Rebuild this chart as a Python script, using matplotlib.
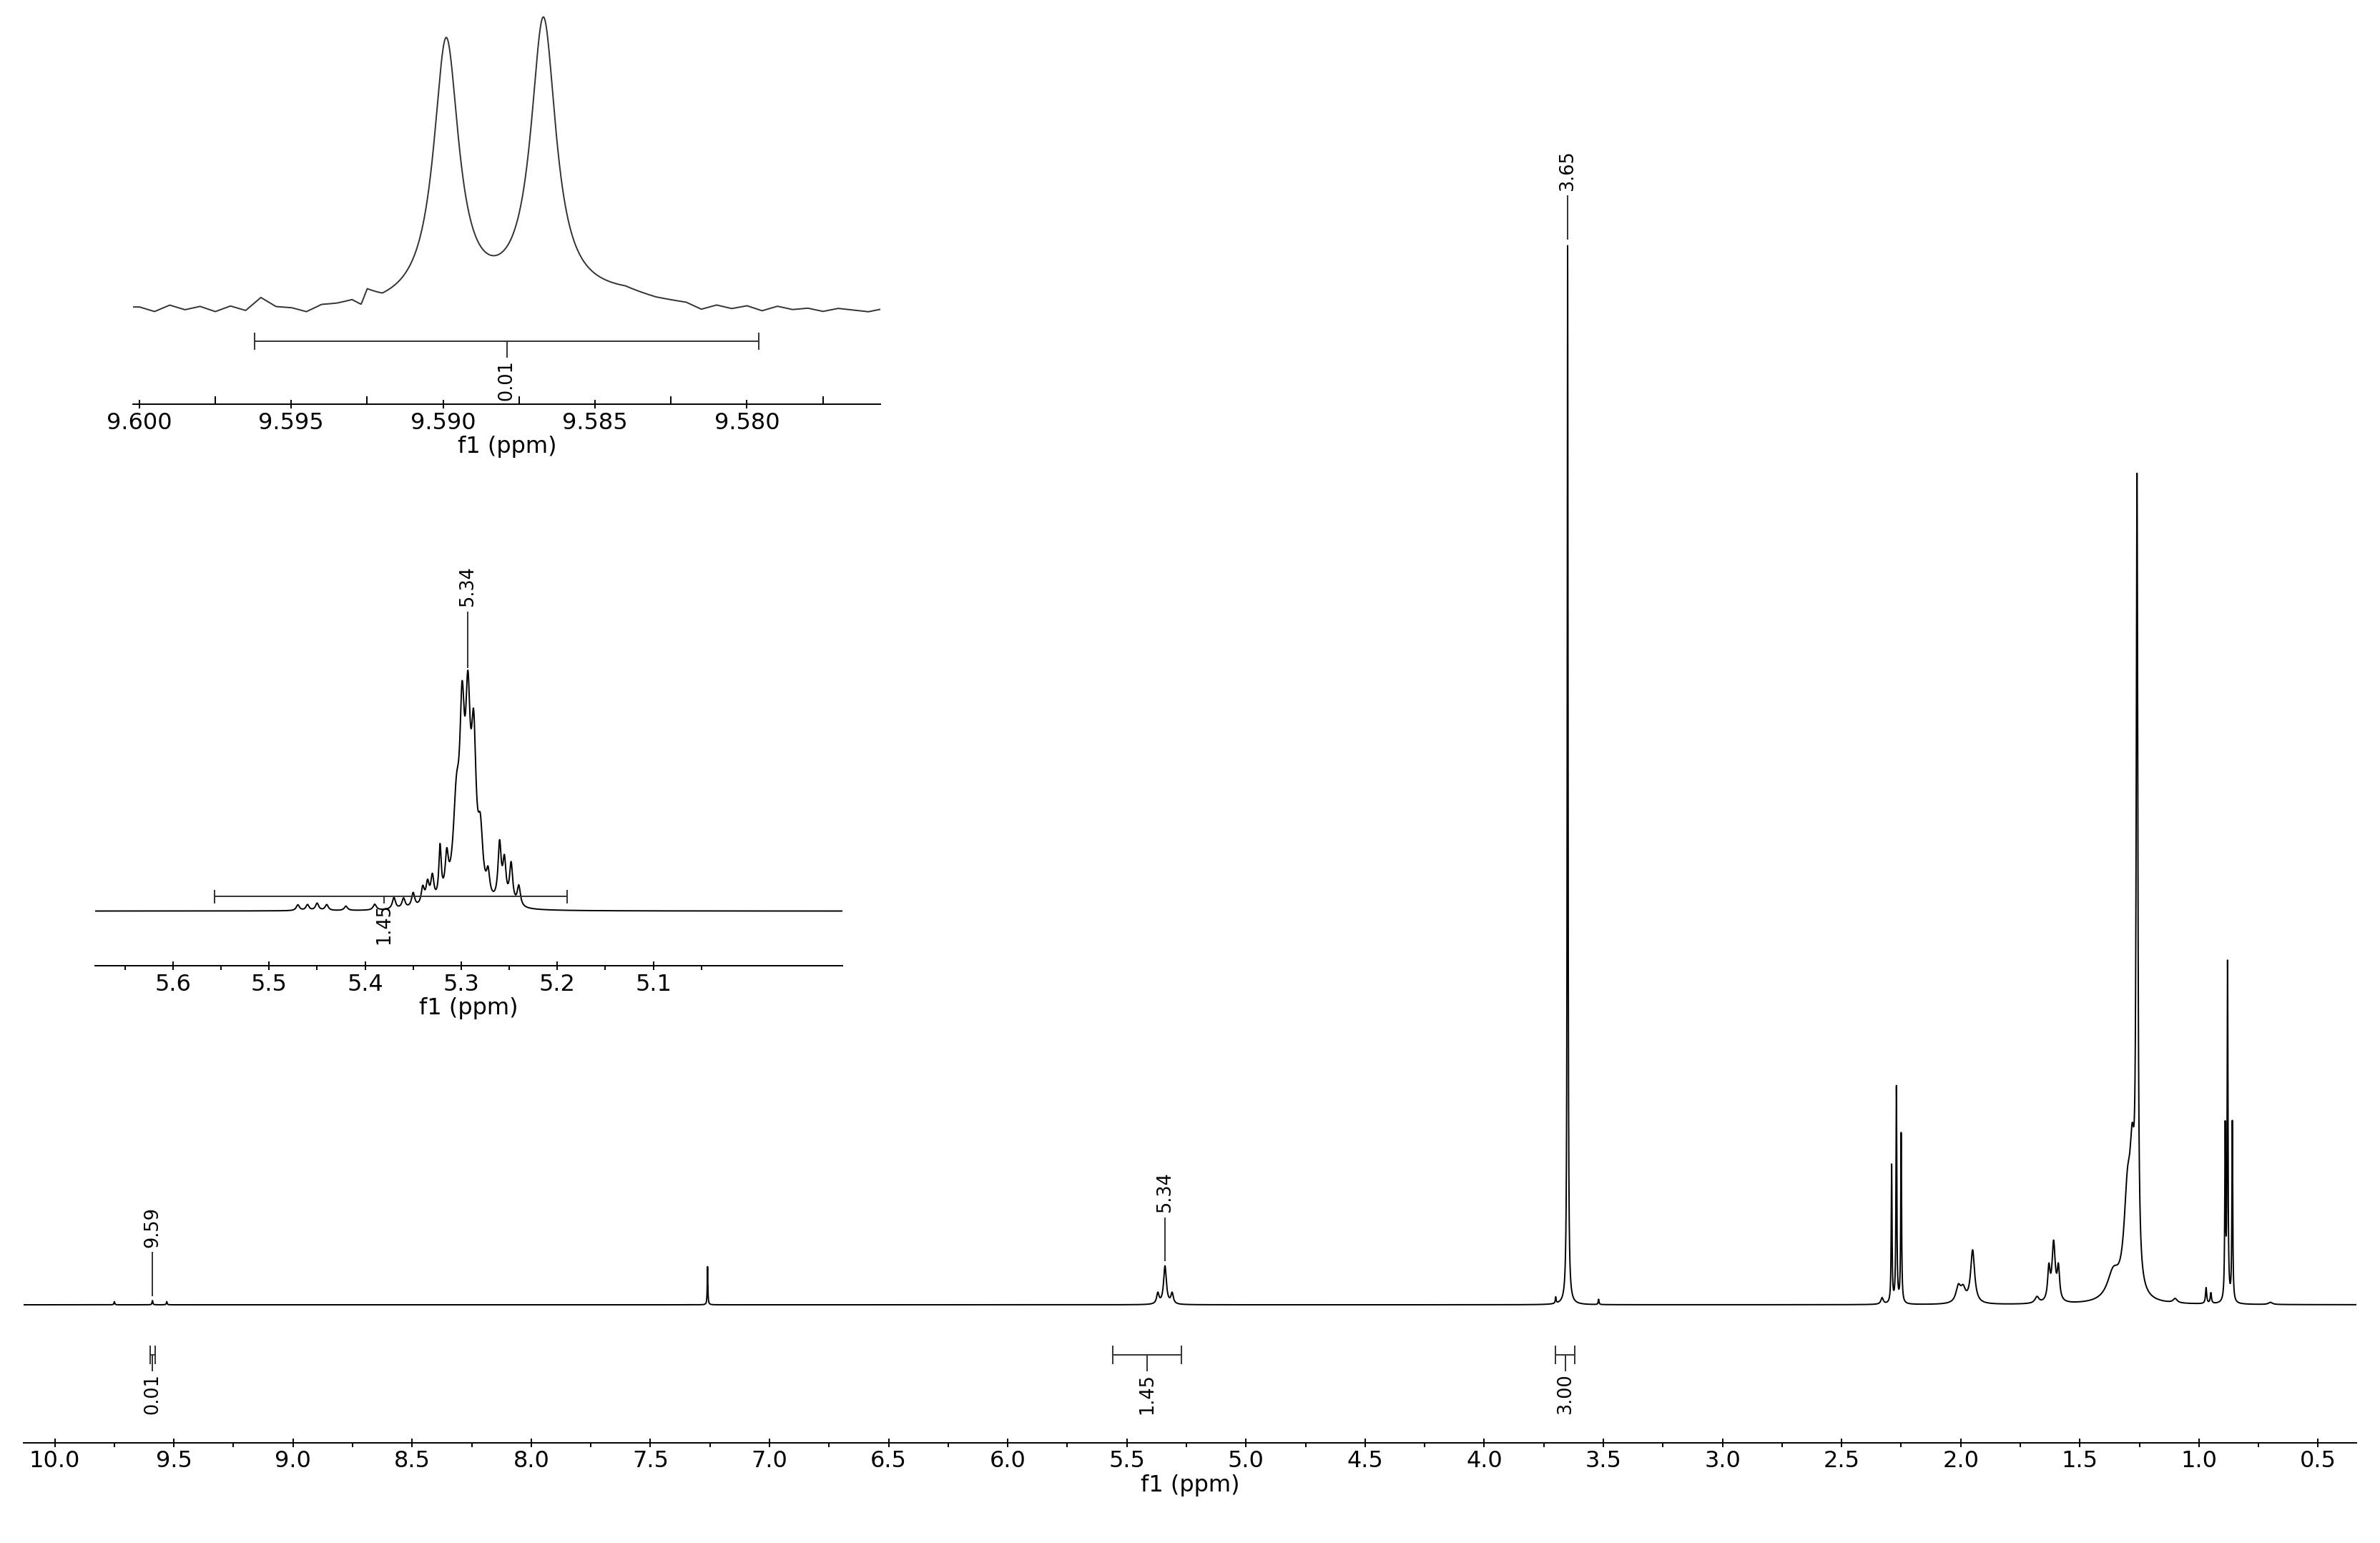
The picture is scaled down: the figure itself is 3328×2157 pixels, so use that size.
import numpy as np
import matplotlib
matplotlib.use("Agg")
from matplotlib import pyplot as plt

plt.rcParams['font.family'] = ['DejaVu Sans']
FS = 23
LW = 1.4

# main spectrum: peak centres (ppm), heights (relative to 3.65 peak), half widths (ppm)
main_pos = [9.75, 9.59, 9.53, 7.26, 5.37, 5.34, 5.31, 3.70, 3.65, 3.52, 2.33, 2.29, 2.27, 2.25,
            2.01, 1.99, 1.95, 1.68, 1.63, 1.61, 1.59, 1.36, 1.30, 1.28, 1.26, 1.10,
            0.97, 0.95, 0.89, 0.88, 0.86, 0.70]
main_h = [0.003, 0.004, 0.003, 0.036, 0.01, 0.036, 0.01, 0.006, 1.0, 0.005, 0.006, 0.13, 0.204, 0.16,
          0.015, 0.012, 0.05, 0.006, 0.03, 0.055, 0.03, 0.025, 0.09, 0.1, 0.74, 0.004,
          0.015, 0.01, 0.16, 0.317, 0.17, 0.002]
main_w = [0.002, 0.002, 0.002, 0.0015, 0.006, 0.007, 0.006, 0.002, 0.002, 0.002, 0.006, 0.002, 0.002, 0.002,
          0.012, 0.012, 0.01, 0.01, 0.006, 0.008, 0.006, 0.03, 0.018, 0.012, 0.004, 0.01,
          0.003, 0.003, 0.002, 0.002, 0.002, 0.01]
main_peak_labels = [9.59, 5.34, 3.65]
main_integrals = [(9.60, 9.58, "0.01"), (5.56, 5.27, "1.45"), (3.70, 3.62, "3.00")]
main_ticks = [10.0, 9.5, 9.0, 8.5, 8.0, 7.5, 7.0, 6.5, 6.0, 5.5, 5.0, 4.5, 4.0, 3.5, 3.0,
              2.5, 2.0, 1.5, 1.0, 0.5]

# inset 1 (aldehyde doublet)
ins1_pos = [9.5899, 9.5867]
ins1_h = [0.83, 0.88]
ins1_w = [0.0005, 0.0005]
ins1_noise_x = [9.600, 9.5995, 9.599, 9.5985, 9.598, 9.5975, 9.597, 9.5965, 9.596, 9.5955, 9.595,
                9.5945, 9.594, 9.5935, 9.593, 9.5927, 9.5925, 9.592,
                9.584, 9.5835, 9.583, 9.582, 9.5815, 9.581, 9.5805, 9.580, 9.5795, 9.579,
                9.5785, 9.578, 9.5775, 9.577, 9.5765, 9.576, 9.5755]
ins1_noise_y = [0.005, -0.01, 0.01, -0.005, 0.005, -0.012, 0.005, -0.01, 0.03, 0.0, -0.005,
                -0.02, 0.0, 0.0, 0.005, -0.015, 0.03, 0.0,
                0.04, 0.03, 0.02, 0.01, -0.01, 0.005, -0.005, 0.005, -0.01, 0.005,
                -0.005, 0.0, -0.01, 0.0, -0.005, -0.01, 0.0]
ins1_ticks = [9.600, 9.595, 9.590, 9.585, 9.580]
ins1_integral = (9.5962, 9.5796, "0.01")

# inset 2 (olefinic multiplet, as drawn on the inset scale)
ins2_pos = [5.52, 5.51, 5.50, 5.49, 5.47, 5.44, 5.42, 5.41, 5.40, 5.39, 5.385, 5.38, 5.372,
            5.365, 5.355, 5.349, 5.343, 5.337, 5.33, 5.322, 5.31, 5.305, 5.298, 5.29]
ins2_pos = [p - 0.05 for p in ins2_pos]
ins2_h = [0.02, 0.02, 0.025, 0.02, 0.015, 0.02, 0.04, 0.035, 0.05, 0.06, 0.07, 0.09, 0.18,
          0.13, 0.3, 0.55, 0.58, 0.5, 0.2, 0.08, 0.2, 0.14, 0.14, 0.07]
ins2_w = [0.002, 0.002, 0.002, 0.002, 0.002, 0.002, 0.002, 0.002, 0.002, 0.002, 0.002, 0.002, 0.0015,
          0.002, 0.004, 0.003, 0.003, 0.003, 0.003, 0.002, 0.002, 0.002, 0.002, 0.002]
ins2_ticks = [5.6, 5.5, 5.4, 5.3, 5.2, 5.1]
ins2_integral = (5.557, 5.19, "1.45")
ins2_peak = 5.293


def spectrum(x, pos, h, w):
    y = np.zeros_like(x)
    for p, a, g in zip(pos, h, w):
        y += a * g ** 2 / ((x - p) ** 2 + g ** 2)
    return y


def integral_bar(ax, x0, x1, y, label, tick_len, text_gap, capsize, xm=None):
    ax.plot([x0, x1], [y, y], color='#333333', lw=LW)
    for xx in (x0, x1):
        ax.plot([xx, xx], [y - capsize, y + capsize], color='#333333', lw=LW)
    if xm is None:
        xm = (x0 + x1) / 2
    ax.plot([xm, xm], [y, y - tick_len], color='#333333', lw=LW)
    ax.text(xm, y - tick_len - text_gap, label, rotation=90, ha='center', va='top', fontsize=FS * 0.8)


def style_axis(ax, ticks, fmt):
    for s in ('top', 'left', 'right'):
        ax.spines[s].set_visible(False)
    ax.spines['bottom'].set_linewidth(LW)
    ax.set_yticks([])
    ax.set_xticks(ticks)
    ax.set_xticklabels([fmt % t for t in ticks], fontsize=FS)
    ax.set_xlabel("f1 (ppm)", fontsize=FS, labelpad=2)
    ax.tick_params(axis='x', length=8, width=LW, direction='inout')
    ax.patch.set_alpha(0)


fig = plt.figure(figsize=(33.28, 21.57), dpi=100)

# main panel
ax = fig.add_axes([0.01, 0.065, 0.98, 0.935])
x = np.linspace(10.13, 0.34, 40000)
ax.plot(x, spectrum(x, main_pos, main_h, main_w), color='black', lw=LW)
ax.set_xlim(10.13, 0.34)
ax.set_ylim(-0.13, 1.23)
style_axis(ax, main_ticks, "%.1f")
ax.set_xticks(np.arange(0.75, 10.0, 0.5), minor=True)
ax.tick_params(axis='x', which='minor', length=4, width=LW)
for p in main_peak_labels:
    top = spectrum(np.array([p]), main_pos, main_h, main_w)[0] + 0.005
    ax.plot([p, p], [top, top + 0.04], color='#333333', lw=LW)
    ax.text(p, top + 0.045, "%.2f" % p, rotation=90, ha='center', va='bottom', fontsize=FS * 0.8)
for x0, x1, lab in main_integrals:
    integral_bar(ax, x0, x1, -0.047, lab, 0.015, 0.003, 0.008)

# inset 1
a1 = fig.add_axes([0.056, 0.738, 0.314, 0.262])
x1 = np.linspace(9.6002, 9.5756, 3000)
y1 = spectrum(x1, ins1_pos, ins1_h, ins1_w) + np.interp(x1[::-1], ins1_noise_x[::-1], ins1_noise_y[::-1])[::-1]
a1.plot(x1, y1, color='#333333', lw=LW)
a1.set_xlim(9.6002, 9.5756)
a1.set_ylim(-0.3, 0.98)
style_axis(a1, ins1_ticks, "%.3f")
a1.set_xticks(np.arange(9.5775, 9.600, 0.0025), minor=True)
a1.tick_params(axis='x', which='minor', length=8, width=LW, direction='in')
integral_bar(a1, ins1_integral[0], ins1_integral[1], -0.1, ins1_integral[2], 0.05, 0.01, 0.025)

# inset 2
a2 = fig.add_axes([0.04, 0.374, 0.314, 0.275])
x2 = np.linspace(5.681, 4.903, 6000)
a2.plot(x2, spectrum(x2, ins2_pos, ins2_h, ins2_w), color='black', lw=LW)
a2.set_xlim(5.681, 4.903)
a2.set_ylim(-0.19, 1.28)
style_axis(a2, ins2_ticks, "%.1f")
a2.set_xticks(np.arange(5.05, 5.7, 0.1), minor=True)
a2.tick_params(axis='x', which='minor', length=4, width=LW)
ptop = spectrum(np.array([ins2_peak]), ins2_pos, ins2_h, ins2_w)[0]
a2.plot([ins2_peak, ins2_peak], [ptop + 0.01, ptop + 0.2], color='#333333', lw=LW)
a2.text(ins2_peak, ptop + 0.22, "5.34", rotation=90, ha='center', va='bottom', fontsize=FS * 0.8)
integral_bar(a2, ins2_integral[0], ins2_integral[1], 0.05, ins2_integral[2], 0.02, 0.003, 0.02, xm=5.38)

fig.savefig("out.png", dpi=100)
